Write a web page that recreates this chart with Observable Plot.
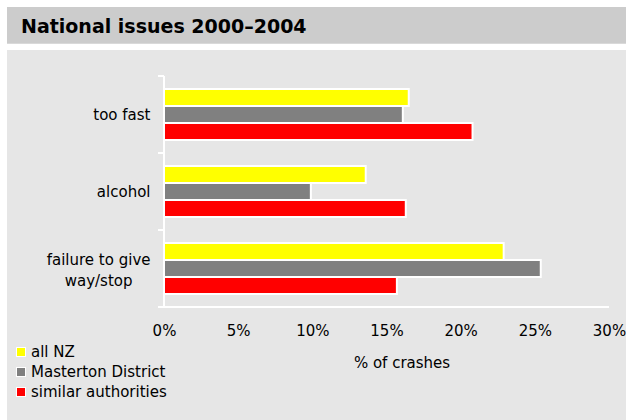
<!DOCTYPE html>
<html><head><meta charset="utf-8">
<script src="https://cdn.jsdelivr.net/npm/d3@7"></script>
<script src="https://cdn.jsdelivr.net/npm/@observablehq/plot@0.6"></script>
<style>
html,body{margin:0;padding:0;background:#fff;}
#wrap{position:relative;width:626px;height:420px;overflow:hidden;font-family:"DejaVu Sans",sans-serif;color:#000;}
#title{position:absolute;left:7px;top:7px;width:619px;height:37px;background:#cccccc;border-bottom:1px solid #d9d9d9;box-sizing:border-box;
  font-weight:bold;font-size:19px;line-height:39px;padding-left:14px;}
#panel{position:absolute;left:7px;top:50px;width:619px;height:370px;background:#e6e6e6;}
#panel svg{position:absolute;left:0;top:0;}
#legend{position:absolute;left:9px;top:292px;font-size:15px;}
#legend .row{height:20px;line-height:20px;display:flex;align-items:center;}
#legend .sw{width:8px;height:8px;border:1.5px solid #fff;margin-right:5px;}
</style></head>
<body>
<div id="wrap">
  <div id="title">National issues 2000–2004</div>
  <div id="panel"><div id="legend"></div></div>
</div>
<script>
const categories = ["too fast", "alcohol", "failure to give\nway/stop"];
const series = ["all NZ", "Masterton District", "similar authorities"];
const allNZ = [16.5, 13.6, 22.9];
const masterton = [16.1, 9.9, 25.4];
const similar = [20.8, 16.3, 15.7];
const xTicks = [0, 5, 10, 15, 20, 25, 30];
const colors = ["#ffff00", "#808080", "#ff0000"];
const xLabel = "% of crashes";

const seriesValues = [allNZ, masterton, similar];
const rows = [];
categories.forEach((c, i) => series.forEach((s, j) => rows.push({cat: c, series: s, value: seriesValues[j][i]})));

const W = 619, H = 370;
const singleLine = categories.filter(c => !c.includes("\n"));
const multiLine = categories.filter(c => c.includes("\n"));
const chart = Plot.plot({
  width: W, height: H,
  marginLeft: 157, marginRight: 17, marginTop: 25, marginBottom: 112,
  style: {fontFamily: "DejaVu Sans", fontSize: "15px", background: "transparent", color: "#000", overflow: "visible"},
  x: {domain: [xTicks[0], xTicks[xTicks.length - 1]]},
  y: {domain: series, paddingInner: 0, paddingOuter: 0.74, axis: null},
  fy: {domain: categories, padding: 0, label: null, axis: null},
  color: {domain: series, range: colors},
  marks: [
    Plot.barX(rows, {fy: "cat", y: "series", x: "value", fill: "series", stroke: "white", strokeWidth: 2}),
    Plot.axisFy({anchor: "left", ticks: singleLine, tickSize: 0, tickPadding: 14, label: null, fontSize: 15}),
    Plot.axisFy({anchor: "left", ticks: multiLine, tickSize: 0, tickPadding: 14, label: null, fontSize: 15, lineHeight: 1.4}),
    Plot.axisX({ticks: xTicks, tickFormat: d => d + "%", tickSize: 0, tickPadding: 18, fontSize: 15,
      label: xLabel, labelAnchor: "center", labelArrow: "none", labelOffset: 60})
  ]
});
document.getElementById("panel").prepend(chart);

// axis lines drawn from the plot's own scales
const xs = chart.scale("x"), fys = chart.scale("fy");
const x0 = xs.apply(xTicks[0]), x1 = xs.apply(xTicks[xTicks.length - 1]);
const tops = fys.domain.map(c => fys.apply(c));
const bottom = tops[tops.length - 1] + fys.bandwidth;
const g = d3.select(chart).append("g").attr("stroke", "#fff").attr("stroke-width", 2).attr("fill", "none");
g.append("line").attr("x1", x0).attr("x2", x0).attr("y1", tops[0]).attr("y2", bottom);
[...tops, bottom].forEach(y => g.append("line").attr("x1", x0 - 6).attr("x2", x0).attr("y1", y).attr("y2", y));
g.append("line").attr("x1", x0 - 6).attr("x2", x1).attr("y1", bottom).attr("y2", bottom);

d3.select(chart).selectAll("text").each(function() {
  const spans = this.querySelectorAll("tspan");
  // centre multi-line category labels within their right-aligned block
  if (spans.length > 1) {
    const bb = this.getBBox();
    const right = bb.x + bb.width;
    let mx = 0;
    spans.forEach(s => mx = Math.max(mx, s.getComputedTextLength()));
    this.setAttribute("text-anchor", "middle");
    spans.forEach(s => s.setAttribute("x", right - mx / 2));
  }
  // x-axis title sits a little right of the range centre in the reference
  if (this.textContent === xLabel) this.setAttribute("dx", 15);
});

// legend
const lg = d3.select("#legend");
series.forEach((s, i) => {
  const r = lg.append("div").attr("class", "row");
  r.append("div").attr("class", "sw").style("background", colors[i]);
  r.append("span").text(s);
});
</script>
</body></html>
